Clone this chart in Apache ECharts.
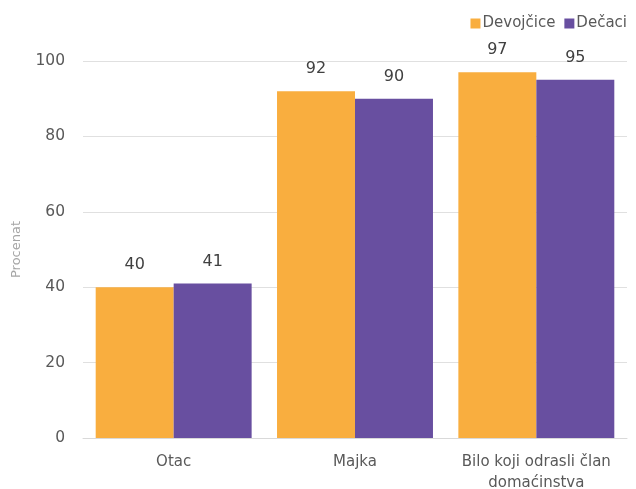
<!DOCTYPE html>
<html><head><meta charset="utf-8">
<script src="https://cdn.jsdelivr.net/npm/echarts@6/dist/echarts.min.js"></script>
<style>html,body{margin:0;padding:0;background:#fff}#c{width:636px;height:489px}</style>
</head><body><div id="c"></div>
<script>
const categories = ['Otac', 'Majka', 'Bilo koji odrasli član\ndomaćinstva'];
const devojcice = [40, 92, 97];
const decaci = [41, 90, 95];
const yTicks = [0, 20, 40, 60, 80, 100];

const font = '"DejaVu Sans", sans-serif';
const chart = echarts.init(document.getElementById('c'));
chart.setOption({
  animation: false,
  textStyle: { fontFamily: font },
  legend: {
    top: 11, right: 4, itemWidth: 10, itemHeight: 10, itemGap: 9,
    icon: 'rect',
    textStyle: { fontSize: 15, color: '#595959', fontFamily: font, padding: [0, 0, 0, -3] },
    data: ['Devojčice', 'Dečaci']
  },
  grid: { left: 83, right: 9, top: 61, bottom: 51, containLabel: false, outerBoundsMode: 'none' },
  xAxis: {
    type: 'category', data: categories,
    axisTick: { show: false },
    axisLine: { lineStyle: { color: '#d9d9d9' } },
    axisLabel: { interval: 0, hideOverlap: false, fontSize: 15, color: '#595959', margin: 14, lineHeight: 21, fontFamily: font }
  },
  yAxis: {
    type: 'value', min: yTicks[0], max: yTicks[yTicks.length - 1], interval: 20,
    name: 'Procenat', nameLocation: 'middle', nameGap: 60, nameRotate: 90,
    nameTextStyle: { fontSize: 13, color: '#a6a6a6', fontFamily: font },
    axisLabel: { fontSize: 15.5, color: '#595959', margin: 18, fontFamily: font },
    splitLine: { lineStyle: { color: '#e0e0e0' } },
    axisLine: { show: false }, axisTick: { show: false }
  },
  series: [
    { name: 'Devojčice', type: 'bar', data: devojcice, barGap: '0%', barCategoryGap: '14%',
      itemStyle: { color: '#F9AE3F' },
      label: { show: true, position: 'top', distance: 14, fontSize: 16, color: '#404040', fontFamily: font } },
    { name: 'Dečaci', type: 'bar', data: decaci,
      itemStyle: { color: '#684FA0' },
      label: { show: true, position: 'top', distance: 14, fontSize: 16, color: '#404040', fontFamily: font } }
  ]
});
</script></body></html>
